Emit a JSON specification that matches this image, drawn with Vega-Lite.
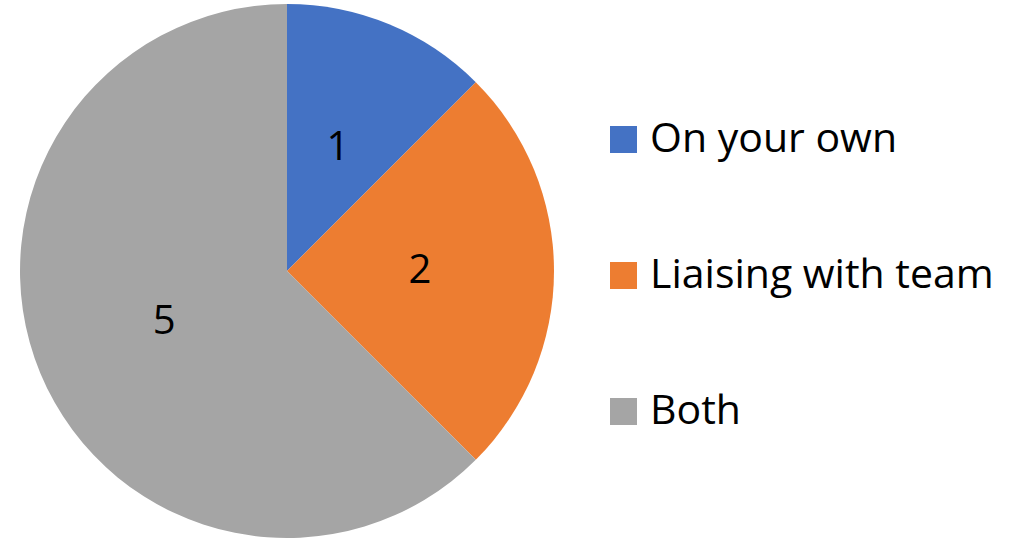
{
  "$schema": "https://vega.github.io/schema/vega-lite/v6.json",
  "width": 574,
  "height": 542,
  "padding": {"left": 0, "top": 0, "right": 451, "bottom": 0},
  "autosize": "none",
  "background": "white",
  "view": {"stroke": null},
  "data": {"values": [
    {"category": "On your own", "value": 1, "order": 1},
    {"category": "Liaising with team", "value": 2, "order": 2},
    {"category": "Both", "value": 5, "order": 3}
  ]},
  "encoding": {
    "theta": {"field": "value", "type": "quantitative", "stack": true},
    "order": {"field": "order", "type": "quantitative"}
  },
  "layer": [
    {
      "mark": {"type": "arc", "outerRadius": 267},
      "encoding": {
        "color": {
          "field": "category",
          "type": "nominal",
          "sort": ["On your own", "Liaising with team", "Both"],
          "scale": {"domain": ["On your own", "Liaising with team", "Both"], "range": ["#4472C4", "#ED7D31", "#A5A5A5"]},
          "legend": {
            "title": null,
            "orient": "none",
            "legendX": 603,
            "legendY": 119,
            "symbolType": "square",
            "symbolSize": 729,
            "symbolStrokeWidth": 0,
            "labelFontSize": 41,
            "labelFont": "Open Sans",
            "labelColor": "black",
            "labelOffset": 6,
            "labelLimit": 500,
            "rowPadding": 94
          }
        }
      }
    },
    {
      "mark": {"type": "text", "radius": 133, "fontSize": 40, "font": "Open Sans", "color": "black"},
      "encoding": {"text": {"field": "value", "type": "quantitative"}}
    }
  ]
}
